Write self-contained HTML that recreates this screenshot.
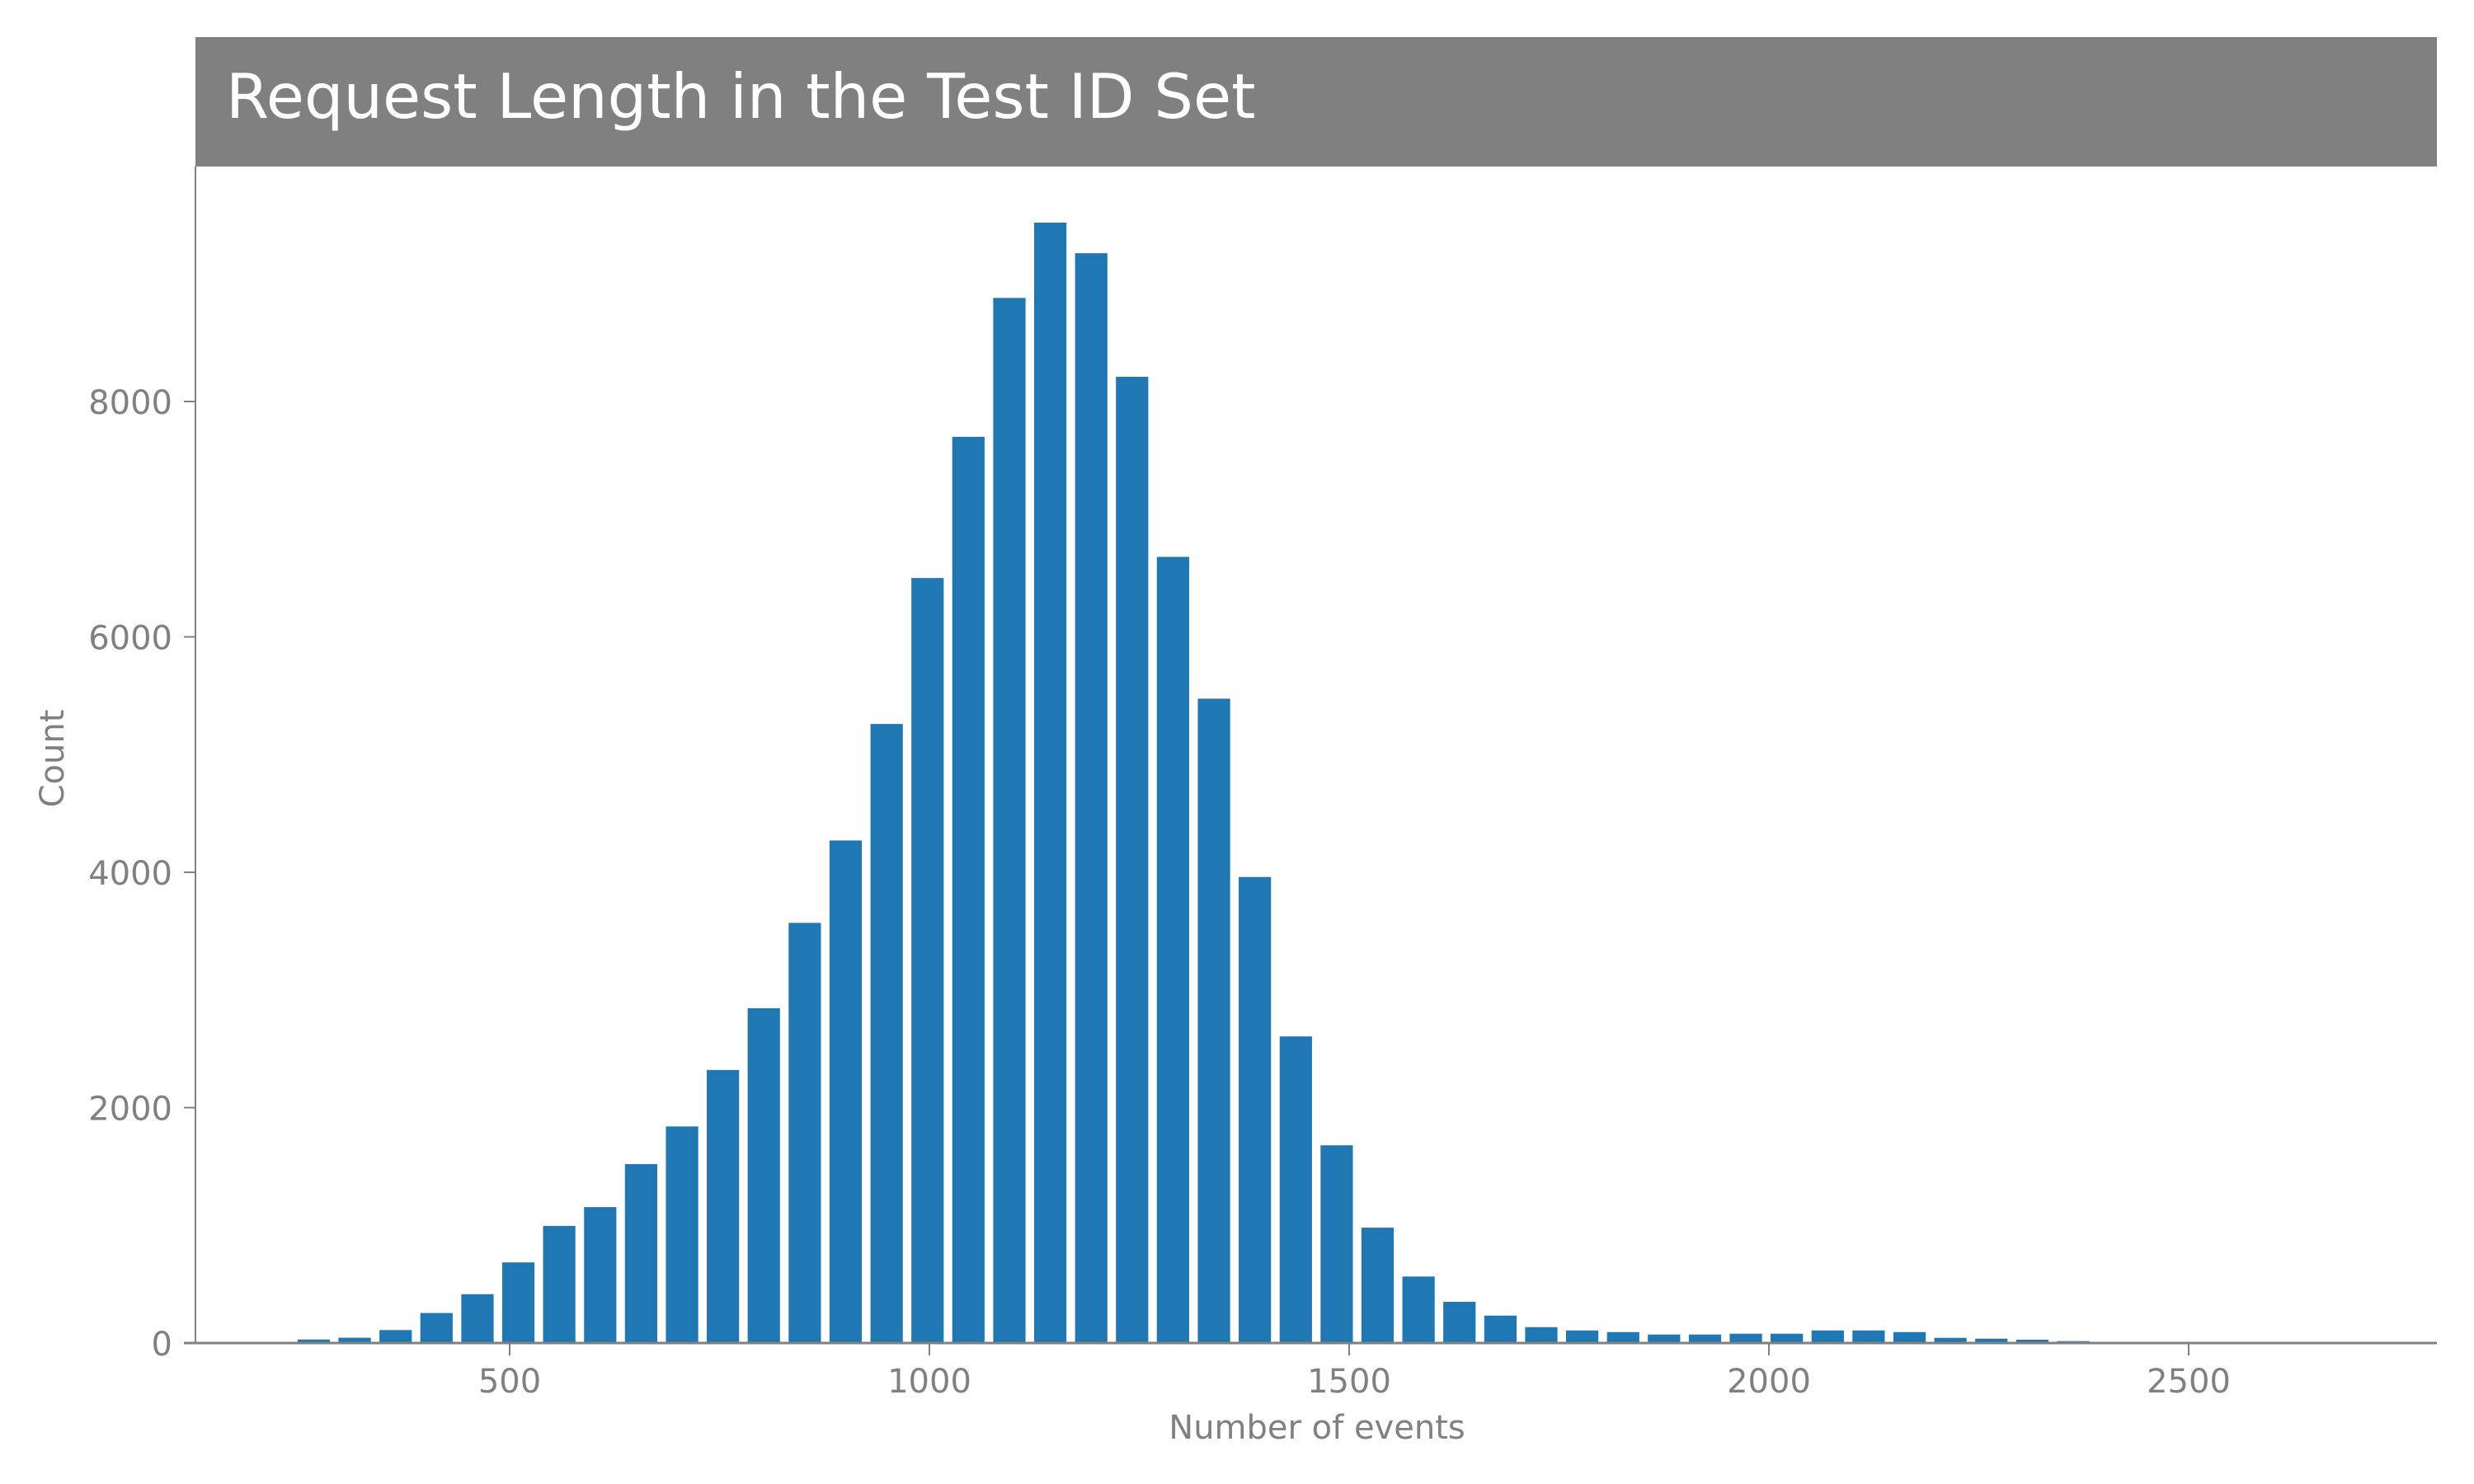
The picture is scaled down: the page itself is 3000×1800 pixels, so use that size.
<!DOCTYPE html>
<html><head><meta charset="utf-8"><style>
html,body{margin:0;padding:0;background:#fff;width:3000px;height:1800px;overflow:hidden}
</style></head><body>
<svg id="chart" width="3000" height="1800" viewBox="0 0 3000 1800" xmlns="http://www.w3.org/2000/svg" font-family="DejaVu Sans, Liberation Sans, sans-serif">
<rect x="237" y="45" width="2718" height="157" fill="#808080"/>
<text x="274" y="143" font-size="75" fill="#ffffff">Request Length in the Test ID Set</text>
<g id="bars"></g>
<g id="axes"></g>
<text x="1597" y="1745" font-size="40" fill="#808080" text-anchor="middle">Number of events</text>
<text transform="translate(77,920) rotate(-90)" font-size="40" fill="#808080" text-anchor="middle">Count</text>
</svg>
<script>
const binStarts = [242.3,291.0,339.8,388.5,437.3,486.0,534.7,583.5,632.2,681.0,729.7,778.4,827.2,875.9,924.7,973.4,1022.1,1070.9,1119.6,1168.4,1217.1,1265.8,1314.6,1363.3,1412.1,1460.8,1509.5,1558.3,1607.0,1655.8,1704.5,1753.2,1802.0,1850.7,1899.5,1948.2,1996.9,2045.7,2094.4,2143.2,2191.9,2240.6,2289.4,2338.1];
const counts = [30,45,110,255,415,685,995,1155,1520,1840,2320,2845,3570,4270,5260,6500,7700,8880,9520,9260,8210,6680,5475,3960,2605,1680,980,565,350,233,135,107,93,72,72,79,79,107,107,93,44,37,28,16];
const binWidth = 48.74;
const xTicks = [500,1000,1500,2000,2500];
const yTicks = [0,2000,4000,6000,8000];

const NS='http://www.w3.org/2000/svg';
const X0=237, X1=2955, Y0=1629;
function x(v){return 618+(v-500)*1.018;}
function y(v){return Y0-v*0.14275;}
const bars=document.getElementById('bars');
binStarts.forEach((s,i)=>{
  const r=document.createElementNS(NS,'rect');
  const c=s+binWidth/2, w=binWidth*0.79;
  r.setAttribute('x',x(c-w/2));
  r.setAttribute('width',x(c+w/2)-x(c-w/2));
  r.setAttribute('y',y(counts[i]));
  r.setAttribute('height',Y0-y(counts[i]));
  r.setAttribute('fill','#1f77b4');
  
  
  bars.appendChild(r);
});
const axes=document.getElementById('axes');
function line(x1,y1,x2,y2,w,name){
  const l=document.createElementNS(NS,'line');
  l.setAttribute('x1',x1);l.setAttribute('y1',y1);l.setAttribute('x2',x2);l.setAttribute('y2',y2);
  l.setAttribute('stroke','#808080');l.setAttribute('stroke-width',w);
  
  
  axes.appendChild(l);
}
function text(tx,ty,s,anchor,name){
  const t=document.createElementNS(NS,'text');
  t.setAttribute('x',tx);t.setAttribute('y',ty);t.setAttribute('font-size','40');
  t.setAttribute('fill','#808080');t.setAttribute('text-anchor',anchor);
  t.textContent=s;
  
  
  axes.appendChild(t);
}
line(X0,202,X0,Y0+1,2,'y-axis-line');
line(X0-14,Y0,X1,Y0,3,'x-axis-line');
xTicks.forEach(v=>{line(x(v),Y0,x(v),Y0+15,2,'x-tick');text(x(v),Y0+60,String(v),'middle','x-tick-label');});
yTicks.forEach(v=>{if(v>0)line(X0-14,y(v),X0,y(v),2,'y-tick');text(X0-28,y(v)+15,String(v),'end','y-tick-label');});
</script>
</body></html>
